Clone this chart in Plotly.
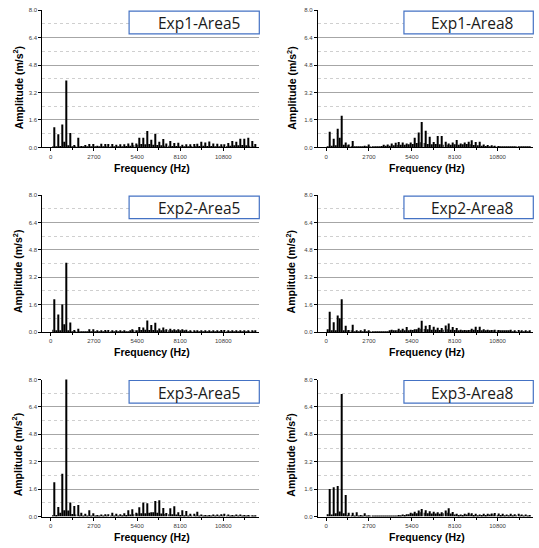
import plotly.graph_objects as go

# ---------------- data ----------------
FREQ_MAIN_HZ = [242, 484, 726, 968, 1210, 1452, 1694, 1936, 2178, 2420,
                2662, 2904, 3146, 3388, 3630, 3872, 4114, 4356, 4598, 4840,
                5082, 5324, 5566, 5808, 6050, 6292, 6534, 6776, 7018, 7260,
                7502, 7744, 7986, 8228, 8470, 8712, 8954, 9196, 9438, 9680,
                9922, 10164, 10406, 10648, 10890, 11132, 11374, 11616, 11858, 12100,
                12342, 12584, 12826]
FREQ_MID_HZ = [121, 363, 605, 847, 1089, 1331, 1573, 1815, 2057, 2299,
               2541, 2783, 3025, 3267, 3509, 3751, 3993, 4235, 4477, 4719,
               4961, 5203, 5445, 5687, 5929, 6171, 6413, 6655, 6897, 7139,
               7381, 7623, 7865, 8107, 8349, 8591, 8833, 9075, 9317, 9559,
               9801, 10043, 10285, 10527, 10769, 11011, 11253, 11495, 11737, 11979,
               12221, 12463, 12705]

PANEL_TITLES = ["Exp1-Area5", "Exp1-Area8", "Exp2-Area5", "Exp2-Area8", "Exp3-Area5", "Exp3-Area8"]

EXP1_AREA5_MAIN = [1.17, 0.76, 1.33, 3.9, 0.84, 0.14, 0.57, 0.08, 0.14, 0.2,
                   0.2, 0.1, 0.21, 0.2, 0.2, 0.2, 0.16, 0.18, 0.18, 0.23,
                   0.27, 0.23, 0.57, 0.56, 0.96, 0.45, 0.8, 0.33, 0.49, 0.23,
                   0.37, 0.25, 0.27, 0.16, 0.18, 0.18, 0.2, 0.21, 0.33, 0.29,
                   0.35, 0.23, 0.21, 0.18, 0.18, 0.25, 0.37, 0.33, 0.5, 0.5,
                   0.56, 0.37, 0.2]
EXP1_AREA5_MID = [0.04, 0.06, 0.08, 0.33, 0.12, 0.06, 0.05, 0.04, 0.05, 0.06,
                  0.05, 0.06, 0.06, 0.05, 0.06, 0.05, 0.06, 0.06, 0.07, 0.08,
                  0.1, 0.12, 0.16, 0.2, 0.18, 0.2, 0.15, 0.14, 0.12, 0.1,
                  0.1, 0.08, 0.08, 0.07, 0.06, 0.07, 0.08, 0.08, 0.08, 0.1,
                  0.08, 0.08, 0.07, 0.06, 0.07, 0.08, 0.1, 0.12, 0.12, 0.14,
                  0.12, 0.1, 0.06]

EXP1_AREA8_MAIN = [0.91, 0.5, 1.09, 1.84, 0.29, 0.17, 0.37, 0.06, 0.06, 0.1,
                   0.17, 0.04, 0.04, 0.06, 0.15, 0.17, 0.23, 0.27, 0.31, 0.29,
                   0.23, 0.29, 0.56, 0.87, 1.48, 0.97, 0.62, 0.31, 0.66, 0.66,
                   0.33, 0.23, 0.29, 0.43, 0.23, 0.29, 0.33, 0.41, 0.31, 0.33,
                   0.17, 0.14, 0.12, 0.1, 0.08, 0.06, 0.06, 0.06, 0.04, 0.04,
                   0.04, 0.04, 0.04]
EXP1_AREA8_MID = [0.05, 0.1, 0.12, 0.56, 0.15, 0.12, 0.08, 0.04, 0.04, 0.04,
                  0.04, 0.04, 0.04, 0.05, 0.08, 0.1, 0.1, 0.12, 0.14, 0.15,
                  0.15, 0.18, 0.2, 0.25, 0.3, 0.25, 0.2, 0.18, 0.2, 0.18,
                  0.16, 0.15, 0.16, 0.18, 0.16, 0.18, 0.2, 0.18, 0.14, 0.12,
                  0.1, 0.08, 0.06, 0.05, 0.04, 0.04, 0.04, 0.04, 0.03, 0.03,
                  0.03, 0.03, 0.03]

EXP2_AREA5_MAIN = [1.92, 1.03, 1.61, 4.05, 0.56, 0.12, 0.19, 0.05, 0.05, 0.16,
                   0.17, 0.08, 0.1, 0.12, 0.12, 0.08, 0.08, 0.1, 0.08, 0.05,
                   0.16, 0.1, 0.29, 0.27, 0.68, 0.41, 0.54, 0.21, 0.27, 0.17,
                   0.19, 0.17, 0.16, 0.16, 0.14, 0.1, 0.1, 0.08, 0.08, 0.06,
                   0.08, 0.08, 0.08, 0.12, 0.12, 0.1, 0.06, 0.06, 0.06, 0.06,
                   0.08, 0.1, 0.08]
EXP2_AREA5_MID = [0.14, 0.08, 0.1, 0.45, 0.1, 0.05, 0.04, 0.04, 0.04, 0.04,
                  0.04, 0.04, 0.04, 0.04, 0.04, 0.04, 0.04, 0.04, 0.04, 0.05,
                  0.06, 0.06, 0.1, 0.12, 0.14, 0.12, 0.12, 0.1, 0.1, 0.08,
                  0.08, 0.08, 0.08, 0.07, 0.06, 0.05, 0.05, 0.04, 0.04, 0.04,
                  0.04, 0.05, 0.05, 0.05, 0.05, 0.04, 0.04, 0.04, 0.03, 0.03,
                  0.04, 0.04, 0.04]

EXP2_AREA8_MAIN = [1.18, 0.58, 0.97, 1.92, 0.37, 0.12, 0.43, 0.08, 0.08, 0.17,
                   0.08, 0.03, 0.03, 0.03, 0.03, 0.04, 0.14, 0.1, 0.19, 0.19,
                   0.29, 0.14, 0.17, 0.25, 0.66, 0.37, 0.41, 0.31, 0.25, 0.23,
                   0.39, 0.5, 0.29, 0.23, 0.14, 0.12, 0.12, 0.19, 0.31, 0.31,
                   0.17, 0.14, 0.12, 0.14, 0.12, 0.08, 0.08, 0.14, 0.1, 0.12,
                   0.08, 0.08, 0.06]
EXP2_AREA8_MID = [0.16, 0.08, 0.1, 0.8, 0.1, 0.06, 0.06, 0.03, 0.03, 0.03,
                  0.03, 0.03, 0.03, 0.03, 0.03, 0.04, 0.06, 0.08, 0.08, 0.1,
                  0.1, 0.1, 0.12, 0.16, 0.2, 0.18, 0.16, 0.14, 0.14, 0.12,
                  0.14, 0.16, 0.14, 0.12, 0.1, 0.08, 0.1, 0.12, 0.14, 0.12,
                  0.1, 0.08, 0.08, 0.08, 0.06, 0.06, 0.06, 0.06, 0.05, 0.05,
                  0.05, 0.04, 0.04]

EXP3_AREA5_MAIN = [2.0, 0.56, 2.5, 8.6, 0.82, 0.62, 0.68, 0.23, 0.17, 0.37,
                   0.19, 0.1, 0.12, 0.14, 0.14, 0.23, 0.16, 0.14, 0.19, 0.37,
                   0.43, 0.23, 0.54, 0.82, 0.78, 0.25, 0.91, 0.95, 0.5, 0.21,
                   0.49, 0.6, 0.25, 0.37, 0.33, 0.17, 0.17, 0.29, 0.12, 0.1,
                   0.1, 0.12, 0.12, 0.14, 0.16, 0.12, 0.1, 0.12, 0.12, 0.1,
                   0.1, 0.08, 0.08]
EXP3_AREA5_MID = [0.1, 0.1, 0.23, 0.37, 0.35, 0.15, 0.12, 0.08, 0.06, 0.06,
                  0.05, 0.05, 0.05, 0.05, 0.06, 0.06, 0.06, 0.06, 0.08, 0.1,
                  0.12, 0.14, 0.18, 0.2, 0.2, 0.22, 0.25, 0.22, 0.18, 0.15,
                  0.14, 0.14, 0.12, 0.1, 0.08, 0.07, 0.07, 0.06, 0.05, 0.05,
                  0.05, 0.05, 0.06, 0.06, 0.06, 0.05, 0.05, 0.05, 0.04, 0.04,
                  0.04, 0.04, 0.04]

EXP3_AREA8_MAIN = [1.61, 1.71, 1.79, 7.15, 1.26, 0.23, 0.23, 0.25, 0.1, 0.19,
                   0.08, 0.04, 0.04, 0.04, 0.04, 0.06, 0.05, 0.06, 0.1, 0.12,
                   0.14, 0.23, 0.29, 0.35, 0.45, 0.37, 0.31, 0.29, 0.25, 0.25,
                   0.35, 0.49, 0.27, 0.16, 0.12, 0.16, 0.23, 0.19, 0.16, 0.12,
                   0.16, 0.16, 0.18, 0.21, 0.18, 0.16, 0.12, 0.16, 0.14, 0.16,
                   0.12, 0.12, 0.1]
EXP3_AREA8_MID = [0.14, 0.12, 0.2, 0.3, 0.2, 0.1, 0.08, 0.06, 0.05, 0.04,
                  0.03, 0.03, 0.03, 0.03, 0.03, 0.04, 0.04, 0.05, 0.06, 0.08,
                  0.1, 0.14, 0.18, 0.2, 0.25, 0.22, 0.2, 0.18, 0.18, 0.16,
                  0.2, 0.22, 0.18, 0.12, 0.1, 0.1, 0.12, 0.12, 0.1, 0.08,
                  0.1, 0.1, 0.12, 0.12, 0.1, 0.1, 0.08, 0.08, 0.08, 0.08,
                  0.08, 0.06, 0.06]

X_TICKS = [0, 2700, 5400, 8100, 10800]
Y_TICKS = [0.0, 1.6, 3.2, 4.8, 6.4, 8.0]

PANELS = [
    (EXP1_AREA5_MAIN, EXP1_AREA5_MID),
    (EXP1_AREA8_MAIN, EXP1_AREA8_MID),
    (EXP2_AREA5_MAIN, EXP2_AREA5_MID),
    (EXP2_AREA8_MAIN, EXP2_AREA8_MID),
    (EXP3_AREA5_MAIN, EXP3_AREA5_MID),
    (EXP3_AREA8_MAIN, EXP3_AREA8_MID),
]

# ---------------- layout geometry ----------------
W, H = 539, 548
COL_PX = [(42.3, 259.3), (317.7, 533.3)]
ROW_PX = [(7.3, 146.0), (194.3, 332.7), (380.7, 519.3)]
YTITLE_X = [17.3, 290.7]
YTITLE_Y = [86.0, 271.7, 457.0]
XTITLE_X = [151.7, 426.7]
XTITLE_Y = [166.7, 353.3, 540.0]

AX_FONT = "Liberation Sans, Arial, sans-serif"

fig = go.Figure()
layout = dict(
    width=W, height=H,
    margin=dict(l=0, r=0, t=0, b=0),
    paper_bgcolor="white", plot_bgcolor="white",
    showlegend=False, barmode="overlay",
    shapes=[], annotations=[],
)

for idx, (main_vals, mid_vals) in enumerate(PANELS):
    r, c = divmod(idx, 2)
    n = idx + 1
    xa = "x" if n == 1 else f"x{n}"
    ya = "y" if n == 1 else f"y{n}"
    fig.add_trace(go.Bar(x=FREQ_MID_HZ, y=mid_vals, width=45, marker_color="black",
                         marker_line_width=0, xaxis=xa, yaxis=ya))
    fig.add_trace(go.Bar(x=FREQ_MAIN_HZ, y=main_vals, width=64, marker_color="black",
                         marker_line_width=0, xaxis=xa, yaxis=ya))
    x0, x1 = COL_PX[c]
    yt, yb = ROW_PX[r]
    layout["xaxis" if n == 1 else f"xaxis{n}"] = dict(
        domain=[x0 / W, x1 / W], anchor=ya, range=[-530, 13050],
        tickvals=X_TICKS, ticktext=[str(v) for v in X_TICKS],
        showgrid=False, zeroline=False, showline=True, linecolor="black", linewidth=1,
        ticks="outside", ticklen=3, tickcolor="black", tickwidth=1,
        minor=dict(dtick=1350, tick0=0, ticks="outside", ticklen=2, tickcolor="black"),
        tickfont=dict(family=AX_FONT, size=6, color="#404040"),
        fixedrange=True,
    )
    layout["yaxis" if n == 1 else f"yaxis{n}"] = dict(
        domain=[1 - yb / H, 1 - yt / H], anchor=xa, range=[0, 8],
        tickvals=Y_TICKS, ticktext=[f"{v:.1f}" for v in Y_TICKS],
        showgrid=True, gridcolor="#a6a6a6", gridwidth=1,
        minor=dict(dtick=0.8, tick0=0, showgrid=True, gridcolor="#cfcfcf", griddash="dot", gridwidth=1),
        zeroline=False, showline=True, linecolor="black", linewidth=1,
        ticks="outside", ticklen=3, tickcolor="black", tickwidth=1,
        tickfont=dict(family=AX_FONT, size=6, color="#404040"),
        fixedrange=True,
    )
    dom_x = "x domain" if n == 1 else f"x{n} domain"
    dom_y = "y domain" if n == 1 else f"y{n} domain"
    layout["shapes"].append(dict(
        type="rect", xref=dom_x, yref=dom_y, x0=0.40, x1=1.0, y0=0.828, y1=0.993,
        line=dict(color="#4472C4", width=1.2), fillcolor="white", layer="above",
    ))
    layout["annotations"].append(dict(
        xref=dom_x, yref=dom_y, x=0.72, y=0.905, text=PANEL_TITLES[idx],
        showarrow=False, xanchor="center", yanchor="middle",
        font=dict(family="Open Sans, Noto Sans, sans-serif", size=15.5, color="#1a1a1a"),
    ))
    layout["annotations"].append(dict(
        xref="paper", yref="paper", x=YTITLE_X[c] / W, y=1 - YTITLE_Y[r] / H,
        text="<b>Amplitude (m/s<sup>2</sup>)</b>", textangle=-90, showarrow=False,
        xanchor="center", yanchor="middle",
        font=dict(family=AX_FONT, size=10.5, color="black"),
    ))
    layout["annotations"].append(dict(
        xref="paper", yref="paper", x=XTITLE_X[c] / W, y=1 - XTITLE_Y[r] / H,
        text="<b>Frequency (Hz)</b>", showarrow=False,
        xanchor="center", yanchor="middle",
        font=dict(family=AX_FONT, size=10.5, color="black"),
    ))

fig.update_layout(**layout)
fig.write_html("out.html", config={"displayModeBar": False})
